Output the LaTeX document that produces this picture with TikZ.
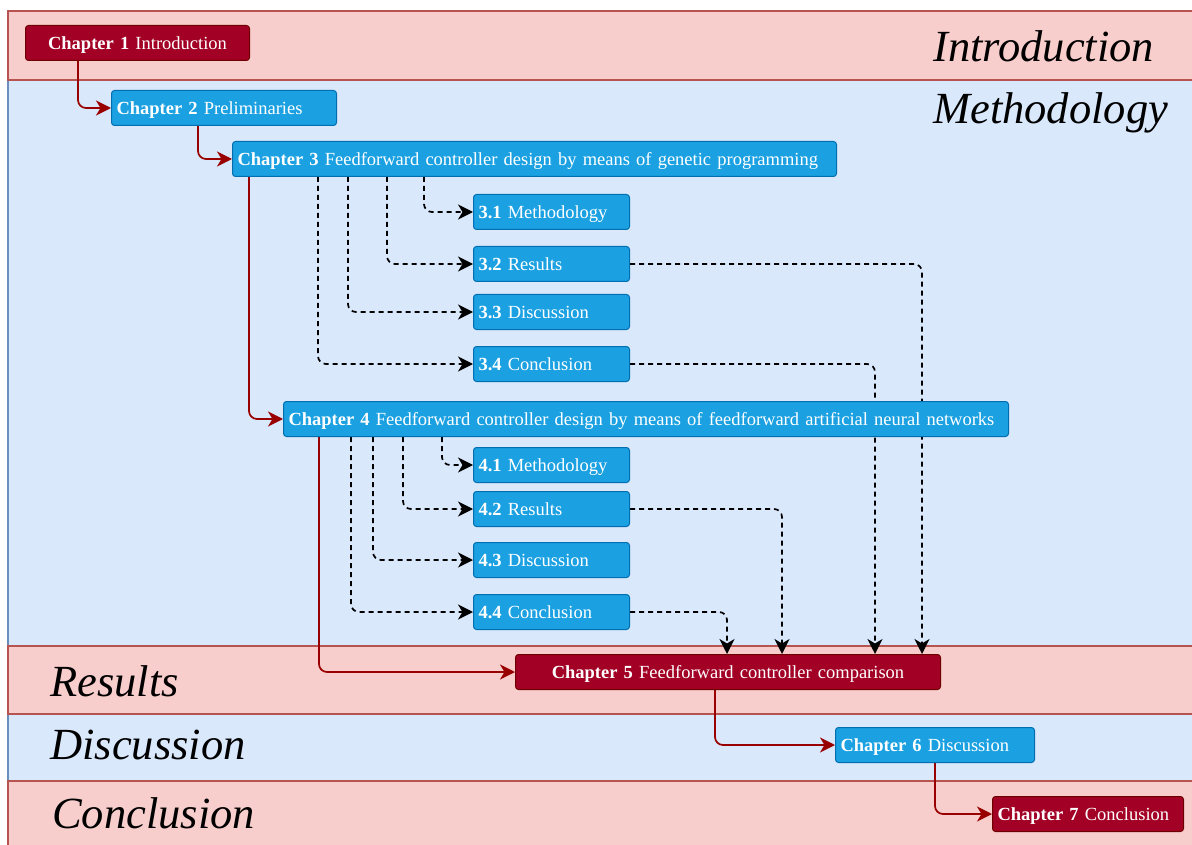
\documentclass[tikz,border=0pt]{standalone}
\usepackage{fontspec}
\setmainfont{Liberation Serif}
\usetikzlibrary{arrows.meta}
\definecolor{pinkF}{HTML}{F8CECC}
\definecolor{pinkD}{HTML}{B85450}
\definecolor{blueF}{HTML}{DAE8FC}
\definecolor{blueD}{HTML}{6C8EBF}
\definecolor{chRed}{HTML}{A20025}
\definecolor{chRedD}{HTML}{6F0000}
\definecolor{chBlue}{HTML}{1BA1E2}
\definecolor{chBlueD}{HTML}{006EAF}
\definecolor{arrRed}{HTML}{990000}
\pgfdeclarelayer{bandlayer}
\pgfdeclarelayer{edgelayer}
\pgfsetlayers{bandlayer,edgelayer,main}
\begin{document}
\begin{tikzpicture}[x=1pt,y=-1pt,
 pinkband/.style={line width=1.2pt, fill=pinkF, draw=pinkD},
 blueband/.style={line width=1.2pt, fill=blueF, draw=blueD},
 chap/.style={rounded corners=3pt, line width=1pt, text=white, font=\fontsize{18.5}{21}\selectfont,
   inner xsep=5pt, inner ysep=0pt, anchor=north west, minimum height=35pt, text height=12.3pt, text depth=0pt},
 redchap/.style={chap, fill=chRed, draw=chRedD},
 bluechap/.style={chap, fill=chBlue, draw=chBlueD},
 sec/.style={font=\fontsize{44.5}{50}\selectfont\itshape, anchor=base west, inner sep=0pt},
 tip/.style={-{Stealth[length=15pt,width=15pt,inset=4.5pt]}},
 redarrow/.style={draw=arrRed, line width=1.7pt, rounded corners=8pt, tip},
 dasharrow/.style={draw=black, line width=1.7pt, dash pattern=on 5pt off 4pt, rounded corners=8pt, tip}
]
\useasboundingbox (0,0) rectangle (1192,845);
% bands
\begin{pgfonlayer}{bandlayer}
\draw[blueband] (8,80) rectangle (1205,646);
\draw[blueband] (8,714) rectangle (1205,781);
\draw[pinkband] (8,11) rectangle (1205,80);
\draw[pinkband] (8,646) rectangle (1205,714);
\draw[pinkband] (8,781) rectangle (1205,860);
\end{pgfonlayer}
% section labels
\node[sec] (lIntro) at (933,62) {Introduction};
\node[sec] (lMeth) at (933,124) {Methodology};
\node[sec] (lRes) at (50,696) {Results};
\node[sec] (lDisc) at (50,759) {Discussion};
\node[sec] (lConc) at (52,828) {Conclusion};
% chapters
\node[redchap, text width=214pt, align=center] (c1) at (25,25) {\textbf{Chapter 1} Introduction};
\node[bluechap, text width=215pt, align=left] (c2) at (111,90) {\textbf{Chapter 2} Preliminaries};
\node[bluechap, text width=594pt, align=left] (c3) at (232,141) {\textbf{Chapter 3} Feedforward controller design by means of genetic programming};
\node[bluechap, text width=146pt, align=left] (s31) at (473,194) {\textbf{3.1} Methodology};
\node[bluechap, text width=146pt, align=left] (s32) at (473,246) {\textbf{3.2} Results};
\node[bluechap, text width=146pt, align=left] (s33) at (473,294) {\textbf{3.3} Discussion};
\node[bluechap, text width=146pt, align=left] (s34) at (473,346) {\textbf{3.4} Conclusion};
\node[bluechap, text width=715pt, align=left] (c4) at (283,401) {\textbf{Chapter 4} Feedforward controller design by means of feedforward artificial neural networks};
\node[bluechap, text width=146pt, align=left] (s41) at (473,447) {\textbf{4.1} Methodology};
\node[bluechap, text width=146pt, align=left] (s42) at (473,491) {\textbf{4.2} Results};
\node[bluechap, text width=146pt, align=left] (s43) at (473,542) {\textbf{4.3} Discussion};
\node[bluechap, text width=146pt, align=left] (s44) at (473,594) {\textbf{4.4} Conclusion};
\node[redchap, text width=415pt, align=center] (c5) at (515,654) {\textbf{Chapter 5} Feedforward controller comparison};
\node[bluechap, text width=189pt, align=left] (c6) at (835,727) {\textbf{Chapter 6} Discussion};
\node[redchap, text width=181pt, align=left] (c7) at (992,796) {\textbf{Chapter 7} Conclusion};
\begin{pgfonlayer}{edgelayer}
% red flow
\draw[redarrow] ([xshift=53pt]c1.south west) |- (c2.west);
\draw[redarrow] ([xshift=87pt]c2.south west) |- (c3.west);
\draw[redarrow] ([xshift=17pt]c3.south west) |- (c4.west);
\draw[redarrow] ([xshift=36pt]c4.south west) |- (c5.west);
\draw[redarrow] ([xshift=200pt]c5.south west) |- (c6.west);
\draw[redarrow] ([xshift=100pt]c6.south west) |- (c7.west);
% chapter 3 sections
\draw[dasharrow] ([xshift=192pt]c3.south west) |- (s31.west);
\draw[dasharrow] ([xshift=155pt]c3.south west) |- (s32.west);
\draw[dasharrow] ([xshift=116pt]c3.south west) |- (s33.west);
\draw[dasharrow] ([xshift=86pt]c3.south west) |- (s34.west);
% chapter 4 sections
\draw[dasharrow] ([xshift=159pt]c4.south west) |- (s41.west);
\draw[dasharrow] ([xshift=120pt]c4.south west) |- (s42.west);
\draw[dasharrow] ([xshift=90pt]c4.south west) |- (s43.west);
\draw[dasharrow] ([xshift=68pt]c4.south west) |- (s44.west);
% to chapter 5
\draw[dasharrow] (s32.east) -| ([xshift=407pt]c5.north west);
\draw[dasharrow] (s34.east) -| ([xshift=360pt]c5.north west);
\draw[dasharrow] (s42.east) -| ([xshift=267pt]c5.north west);
\draw[dasharrow] (s44.east) -| ([xshift=212pt]c5.north west);
\end{pgfonlayer}
\end{tikzpicture}
\end{document}
